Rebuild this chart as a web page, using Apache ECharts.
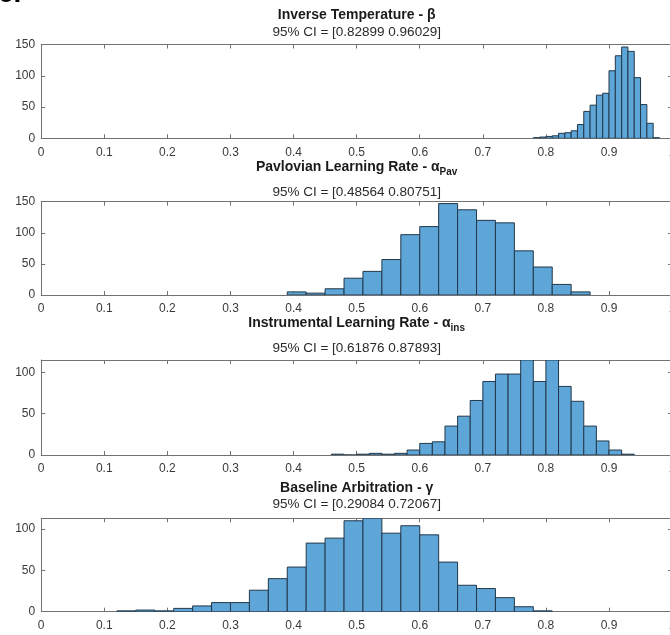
<!DOCTYPE html>
<html>
<head>
<meta charset="utf-8">
<title>Posterior histograms</title>
<script src="https://cdn.jsdelivr.net/npm/echarts@6/dist/echarts.min.js"></script>
<style>
  html, body { margin: 0; padding: 0; background: #fff; }
  #main { width: 670px; height: 635px; }
</style>
</head>
<body>
<div id="main"></div>
<script>
// ===================== data =====================
const xTicks = [0, 0.1, 0.2, 0.3, 0.4, 0.5, 0.6, 0.7, 0.8, 0.9, 1]
const yMax = [150, 150, 115, 113]
const yInterval = 50

const titles = [
  '{m|Inverse Temperature - β}',
  '{m|Pavlovian Learning Rate - α}{s|Pav}',
  '{m|Instrumental Learning Rate - α}{s|ins}',
  '{m|Baseline Arbitration - γ}',
]
const ciLabels = [
  '95% CI = [0.82899 0.96029]',
  '95% CI = [0.48564 0.80751]',
  '95% CI = [0.61876 0.87893]',
  '95% CI = [0.29084 0.72067]',
]

// histogram bins: first edge, bin width, counts
const betaStart = 0.78
const betaWidth = 0.01
const betaCounts = [1, 2, 3, 4, 8, 9, 12, 22, 43, 53, 69, 72, 108, 132, 146, 139, 97, 54, 24, 1]

const pavStart = 0.39
const pavWidth = 0.03
const pavCounts = [5, 3, 10, 27, 38, 57, 97, 110, 147, 137, 120, 116, 71, 45, 17, 5]

const insStart = 0.46
const insWidth = 0.02
const insCounts = [1, 0, 1, 2, 1, 2, 6, 14, 16, 35, 47, 66, 89, 98, 98, 115, 89, 115, 83, 65, 35, 17, 6, 1]

const gammaStart = 0.12
const gammaWidth = 0.03
const gammaCounts = [1, 2, 1, 4, 7, 11, 11, 26, 40, 54, 83, 89, 110, 113, 95, 104, 93, 60, 32, 28, 17, 6, 1]

const hists = [
  { start: betaStart, width: betaWidth, counts: betaCounts },
  { start: pavStart, width: pavWidth, counts: pavCounts },
  { start: insStart, width: insWidth, counts: insCounts },
  { start: gammaStart, width: gammaWidth, counts: gammaCounts },
]

// ===================== layout / style =====================
const font = 'Liberation Sans, Arial, Helvetica, sans-serif'
const gridLeft = 41.2
const gridWidth = 630.9
const gridTops = [44.5, 201.7, 360, 518.3]
const gridHeights = [93.8, 93.3, 95, 93.4]
const titleY = [15, 167, 323, 488]
const ciY = [32, 192, 348, 504]
const centerX = gridLeft + gridWidth / 2
const axisColor = '#727272'
const labelColor = '#3a3a3a'
const barFill = '#5ea5d8'
const barEdge = '#22384b'

const toBins = (h) =>
  h.counts.map((c, i) => {
    const lo = +(h.start + i * h.width).toFixed(4)
    const hi = +(h.start + (i + 1) * h.width).toFixed(4)
    return [lo, hi, c]
  })

const renderBin = (params, api) => {
  const p0 = api.coord([api.value(0), api.value(2)])
  const p1 = api.coord([api.value(1), 0])
  return {
    type: 'rect',
    shape: { x: p0[0], y: p0[1], width: p1[0] - p0[0], height: p1[1] - p0[1] },
    style: { fill: barFill, stroke: barEdge, lineWidth: 1 },
  }
}

// ===================== option =====================
const grid = []
const xAxis = []
const yAxis = []
const series = []
const title = []

hists.forEach((h, i) => {
  // the axes run a little past the right edge of the picture, like the source
  grid.push({
    left: gridLeft, width: gridWidth, top: gridTops[i], height: gridHeights[i],
    outerBoundsMode: 'none', containLabel: false,
  })

  const xBase = {
    gridIndex: i,
    type: 'value',
    min: xTicks[0],
    max: xTicks[xTicks.length - 1],
    interval: 0.1,
    splitLine: { show: false },
    axisLine: { show: true, onZero: false, lineStyle: { color: axisColor, width: 1 } },
    axisTick: { show: true, inside: true, length: 4, lineStyle: { color: axisColor } },
  }
  xAxis.push(Object.assign({}, xBase, {
    position: 'bottom',
    axisLabel: { color: labelColor, fontSize: 12, fontFamily: font, margin: 8, showMaxLabel: true, hideOverlap: false },
  }))
  xAxis.push(Object.assign({}, xBase, { position: 'top', axisLabel: { show: false } }))

  const yBase = {
    gridIndex: i,
    type: 'value',
    min: 0,
    max: yMax[i],
    interval: yInterval,
    splitLine: { show: false },
    axisLine: { show: true, onZero: false, lineStyle: { color: axisColor, width: 1 } },
    axisTick: { show: true, inside: true, length: 4, lineStyle: { color: axisColor } },
  }
  yAxis.push(Object.assign({}, yBase, {
    position: 'left',
    axisLabel: {
      color: labelColor, fontSize: 12, fontFamily: font, margin: 6,
      formatter: (v) => (v % yInterval === 0 ? String(v) : ''),
    },
  }))
  yAxis.push(Object.assign({}, yBase, { position: 'right', axisLabel: { show: false } }))

  series.push({
    type: 'custom',
    xAxisIndex: i * 2,
    yAxisIndex: i * 2,
    renderItem: renderBin,
    encode: { x: [0, 1], y: 2 },
    data: toBins(h),
    clip: true,
  })

  title.push({
    text: titles[i],
    left: centerX,
    top: titleY[i],
    textAlign: 'center',
    textVerticalAlign: 'middle',
    padding: 0,
    textStyle: {
      rich: {
        m: { fontSize: 14, fontWeight: 'bold', fontFamily: font, color: '#1a1a1a', lineHeight: 16 },
        s: { fontSize: 10, fontWeight: 'bold', fontFamily: font, color: '#1a1a1a', lineHeight: 10, padding: [10, 0, 0, 0] },
      },
    },
  })
  title.push({
    text: ciLabels[i],
    left: centerX,
    top: ciY[i],
    textAlign: 'center',
    textVerticalAlign: 'middle',
    padding: 0,
    textStyle: { fontSize: 13.5, fontWeight: 'normal', fontFamily: font, color: '#2a2a2a' },
  })
})

const myChart = echarts.init(document.getElementById('main'), null, { renderer: 'canvas' })
myChart.setOption({
  animation: false,
  backgroundColor: '#fff',
  title,
  grid,
  xAxis,
  yAxis,
  series,
  graphic: [
    // panel letter, mostly cropped at the top edge
    { type: 'text', left: -2, top: -20, style: { text: 'c.', font: 'bold 28px ' + font, fill: '#000' } },
  ],
})
</script>
</body>
</html>
